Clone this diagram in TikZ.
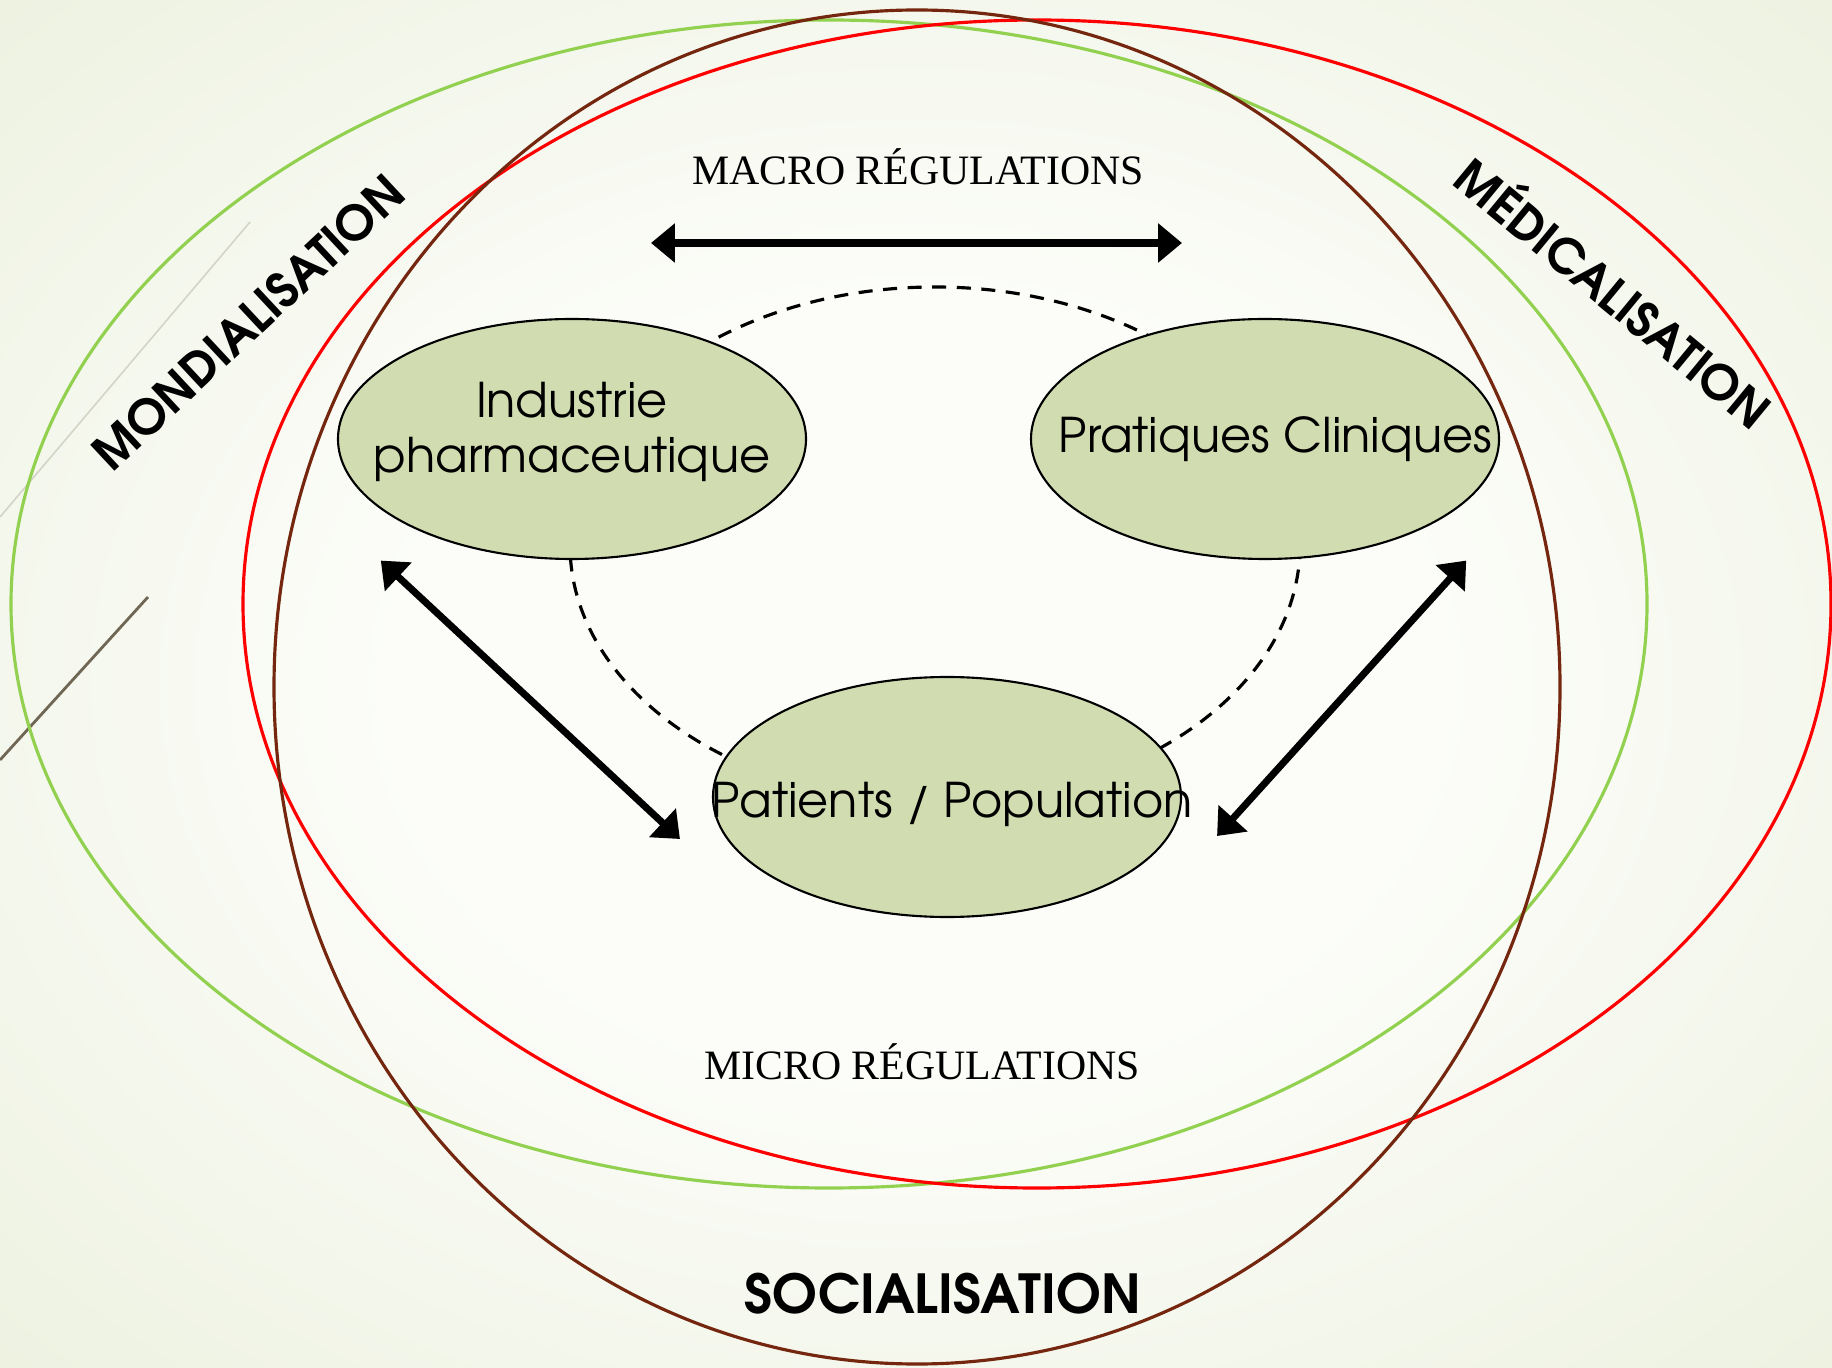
\documentclass[tikz,border=0pt]{standalone}
\usepackage{fontspec}
\usepackage{tikz}
\usetikzlibrary{arrows.meta,shapes.geometric,positioning}

\newfontfamily\gothic{TeX Gyre Adventor}
\newfontfamily\romanface{Liberation Serif}

\definecolor{ringgreen}{HTML}{92D050}
\definecolor{ringred}{HTML}{FF0000}
\definecolor{ringbrown}{HTML}{74260E}
\definecolor{polefill}{HTML}{D1DCB1}
\definecolor{bgin}{HTML}{FCFDF9}
\definecolor{bgout}{HTML}{E3EAD0}
\definecolor{strokegrey}{HTML}{D3D3C6}
\definecolor{stroketaupe}{HTML}{6F6654}

\pgfdeclareradialshading{slidebg}{\pgfpoint{0bp}{0bp}}{%
  color(0bp)=(bgin); color(14bp)=(bgin); color(50bp)=(bgout); color(75bp)=(bgout)}

\begin{document}
\begin{tikzpicture}[x=0.1mm, y=-0.1mm,
    pole/.style={draw, ellipse, fill=polefill, line width=0.6pt, minimum width=46.8mm, minimum height=24mm, inner sep=0pt},
    poletext/.style={font=\gothic\fontsize{13.6}{15.4}\selectfont, align=center},
    ring/.style={line width=0.9pt},
    force/.style={font=\gothic\bfseries\fontsize{15.3}{18}\selectfont, text height=11.5pt, text depth=0pt, inner sep=0pt},
    slanted/.style={force, font=\gothic\bfseries\fontsize{13.7}{16}\selectfont, text height=10.3pt},
    level/.style={font=\romanface\fontsize{11.9}{14}\selectfont, text height=8pt, text depth=0pt, inner sep=0pt},
    dbl/.style={{Triangle[length=6.8pt,width=10.8pt]}-{Triangle[length=6.8pt,width=10.8pt]}, line width=2pt}
]
% slide background
\useasboundingbox (0,0) rectangle (1832,1368);
\shade[shading=slidebg] (0,0) rectangle (1832,1368);
\draw[strokegrey, line width=0.45pt] (0,517) -- (250,222);
\draw[stroketaupe, line width=0.8pt] (0,760) -- (148,597);

% the three spheres
\draw[ring, ringgreen] (829,604) ellipse [x radius=818, y radius=584];
\draw[ring, ringred] (1037,604) ellipse [x radius=794, y radius=584];
\draw[ring, ringbrown] (917,687) ellipse [x radius=643, y radius=677];

% dashed loop behind the actors
\draw[line width=0.9pt, dash pattern=on 4pt off 3pt] (935,545) ellipse [x radius=365, y radius=258];

% actors
\node[pole, label={[poletext, yshift=2pt]center:Industrie\\pharmaceutique}] (ind) at (572,439) {};
\node[pole, label={[poletext, xshift=3pt]center:Pratiques Cliniques}] (prat) at (1265,439) {};
\node[pole, label={[poletext, xshift=1.5pt, yshift=-2pt]center:Patients / Population}] (pat) at (947,797) {};

% regulation levels
\node[level] (macro) at (918,170) {MACRO RÉGULATIONS};
\node[level] (micro) at (922,1065) {MICRO RÉGULATIONS};
\coordinate (macro-l) at (651,243);
\coordinate (macro-r) at (1182,243);

\draw[dbl] (macro-l) -- (macro-r);
\draw[dbl] ([shift={(-25,36)}]ind.south west) -- ([shift={(-32,42)}]pat.west);
\draw[dbl] ([shift={(35,36)}]prat.south east) -- ([shift={(35,39)}]pat.east);

% forces around the system
\node[force] (soc) at (943,1293) {SOCIALISATION};
\node[slanted, rotate=43] (mond) at (248,322) {MONDIALISATION};
\node[slanted, rotate=-39.5] (med) at (1613,294) {MÉDICALISATION};
\end{tikzpicture}
\end{document}
